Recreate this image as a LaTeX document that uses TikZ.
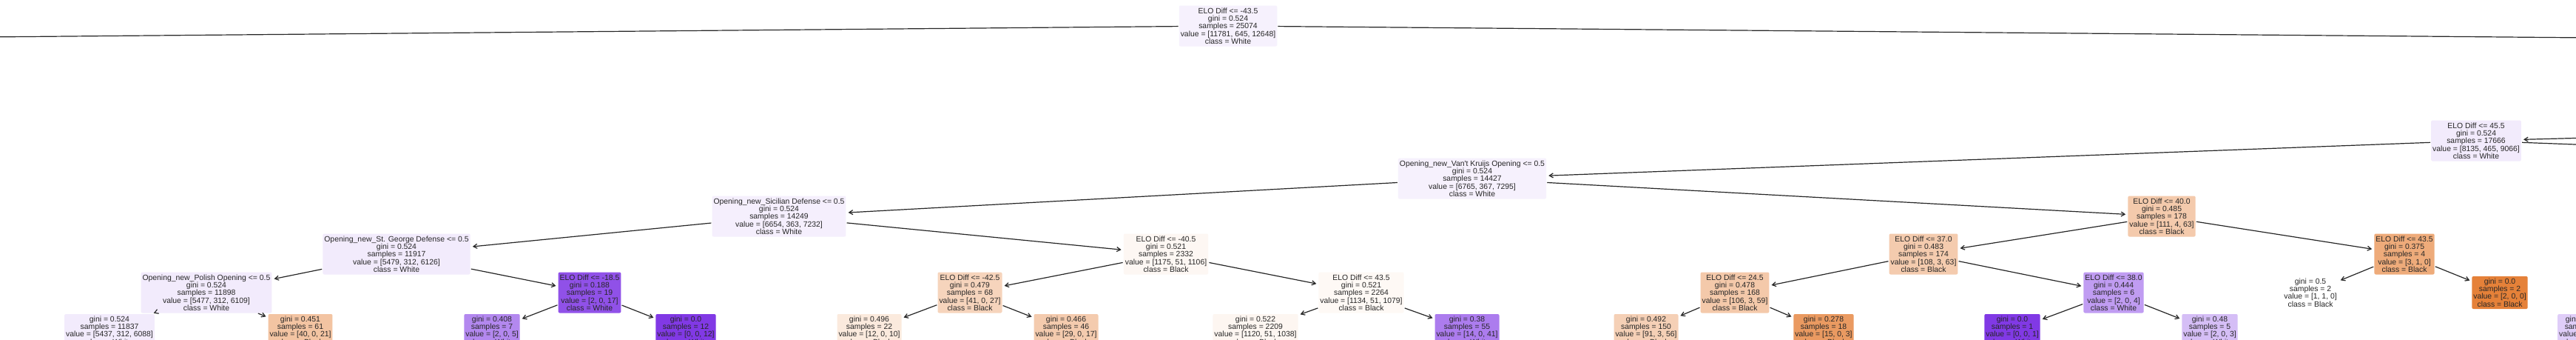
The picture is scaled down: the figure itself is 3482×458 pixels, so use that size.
\documentclass[tikz,border=0pt]{standalone}
\usepackage{fontspec}
\setmainfont{Liberation Sans}
\usepackage{xcolor}
\definecolor{blk}{RGB}{229,129,57}
\definecolor{wht}{RGB}{129,57,229}
\usetikzlibrary{arrows.meta}

\begin{document}
\begin{tikzpicture}[
      x=1pt,y=-1pt,
      box/.style={rounded corners=2pt,align=center,inner xsep=2pt,inner ysep=1pt,
        minimum height=55pt,text=black!85,font=\fontsize{10.4}{10.3}\selectfont},
      leaf/.style={box,minimum height=44pt},
      edge/.style={-{Straight Barb[length=5pt,width=6pt]},line width=1.2pt,black!85,
        shorten >=3pt,shorten <=1pt}
    ]
    \useasboundingbox[fill=white] (0,0) rectangle (3482,458);
    % split nodes
    \node[box,fill=wht!7] (root) at (1660,35)
    {ELO Diff <= -43.5\\gini = 0.524\\samples = 25074\\value = [11781, 645, 12648]\\class = White};
    \node[box,fill=wht!10] (d45) at (3347,190)
    {ELO Diff <= 45.5\\gini = 0.524\\samples = 17666\\value = [8135, 465, 9066]\\class = White};
    \node[box,fill=wht!7] (vk) at (1990,241)
    {Opening\_new\_Van\textquotesingle t Kruijs Opening <= 0.5\\gini = 0.524\\samples = 14427\\value = [6765, 367, 7295]\\class = White};
    \node[box,fill=wht!8] (sic) at (1053,292)
    {Opening\_new\_Sicilian Defense <= 0.5\\gini = 0.524\\samples = 14249\\value = [6654, 363, 7232]\\class = White};
    \node[box,fill=blk!42] (d40) at (2922,292)
    {ELO Diff <= 40.0\\gini = 0.485\\samples = 178\\value = [111, 4, 63]\\class = Black};
    \node[box,fill=wht!10] (stg) at (536,343)
    {Opening\_new\_St. George Defense <= 0.5\\gini = 0.524\\samples = 11917\\value = [5479, 312, 6126]\\class = White};
    \node[box,fill=blk!6] (d405) at (1576,343)
    {ELO Diff <= -40.5\\gini = 0.521\\samples = 2332\\value = [1175, 51, 1106]\\class = Black};
    \node[box,fill=blk!41] (d37) at (2600,343)
    {ELO Diff <= 37.0\\gini = 0.483\\samples = 174\\value = [108, 3, 63]\\class = Black};
    \node[box,fill=blk!67] (d435r) at (3250,343)
    {ELO Diff <= 43.5\\gini = 0.375\\samples = 4\\value = [3, 1, 0]\\class = Black};
    \node[box,fill=wht!10] (pol) at (279,395)
    {Opening\_new\_Polish Opening <= 0.5\\gini = 0.524\\samples = 11898\\value = [5477, 312, 6109]\\class = White};
    \node[box,fill=wht!88] (d185) at (797,395)
    {ELO Diff <= -18.5\\gini = 0.188\\samples = 19\\value = [2, 0, 17]\\class = White};
    \node[box,fill=blk!34] (d425) at (1311,395)
    {ELO Diff <= -42.5\\gini = 0.479\\samples = 68\\value = [41, 0, 27]\\class = Black};
    \node[box,fill=blk!5] (d435m) at (1840,395)
    {ELO Diff <= 43.5\\gini = 0.521\\samples = 2264\\value = [1134, 51, 1079]\\class = Black};
    \node[box,fill=blk!43] (d245) at (2345,395)
    {ELO Diff <= 24.5\\gini = 0.478\\samples = 168\\value = [106, 3, 59]\\class = Black};
    \node[box,fill=wht!50] (d38) at (2857,395)
    {ELO Diff <= 38.0\\gini = 0.444\\samples = 6\\value = [2, 0, 4]\\class = White};
    % leaves
    \node[leaf,fill=white] (lfa) at (3123,395) {gini = 0.5\\samples = 2\\value = [1, 1, 0]\\class = Black};
    \node[leaf,fill=blk] (lfb) at (3379,395) {gini = 0.0\\samples = 2\\value = [2, 0, 0]\\class = Black};
    \node[leaf,fill=wht!10] (l1) at (148,446) {gini = 0.524\\samples = 11837\\value = [5437, 312, 6088]\\class = White};
    \node[leaf,fill=blk!47] (l2) at (406,446) {gini = 0.451\\samples = 61\\value = [40, 0, 21]\\class = Black};
    \node[leaf,fill=wht!60] (l3) at (665,446) {gini = 0.408\\samples = 7\\value = [2, 0, 5]\\class = White};
    \node[leaf,fill=wht] (l4) at (927,446) {gini = 0.0\\samples = 12\\value = [0, 0, 12]\\class = White};
    \node[leaf,fill=blk!17] (l5) at (1175,446) {gini = 0.496\\samples = 22\\value = [12, 0, 10]\\class = Black};
    \node[leaf,fill=blk!41] (l6) at (1441,446) {gini = 0.466\\samples = 46\\value = [29, 0, 17]\\class = Black};
    \node[leaf,fill=blk!7] (l7) at (1697,446) {gini = 0.522\\samples = 2209\\value = [1120, 51, 1038]\\class = Black};
    \node[leaf,fill=wht!66] (l8) at (1983,446) {gini = 0.38\\samples = 55\\value = [14, 0, 41]\\class = White};
    \node[leaf,fill=blk!37] (l9) at (2225,446) {gini = 0.492\\samples = 150\\value = [91, 3, 56]\\class = Black};
    \node[leaf,fill=blk!80] (l10) at (2465,446) {gini = 0.278\\samples = 18\\value = [15, 0, 3]\\class = Black};
    \node[leaf,fill=wht] (l11) at (2720,446) {gini = 0.0\\samples = 1\\value = [0, 0, 1]\\class = White};
    \node[leaf,fill=wht!33] (l12) at (2987,446) {gini = 0.48\\samples = 5\\value = [2, 0, 3]\\class = White};
    \node[leaf,fill=wht!25,anchor=west] (l13) at (3457,446) {gini = 0.375\\samples = 4\\value = [1, 0, 3]\\class = White};
    % parents and children outside the frame
    \coordinate (rootL) at (-4040,86);
    \coordinate (rootR) at (7525,86);
    \coordinate (d45p) at (5330,138);
    \coordinate (d45r) at (4710,241);
    \draw[edge] (root) -- (rootL);
    \draw[edge] (root) -- (rootR);
    \draw[edge] (d45p) -- (d45);
    \draw[edge] (d45) -- (d45r);
    \foreach \a/\b in {d45/vk,vk/sic,vk/d40,sic/stg,sic/d405,stg/pol,stg/d185,
      pol/l1,pol/l2,d185/l3,d185/l4,d405/d425,d405/d435m,d425/l5,d425/l6,
      d435m/l7,d435m/l8,d40/d37,d40/d435r,d37/d245,d37/d38,d245/l9,d245/l10,
      d38/l11,d38/l12,d435r/lfa,d435r/lfb} {
      \draw[edge] (\a) -- (\b);
    }
  \end{tikzpicture}
\end{document}
